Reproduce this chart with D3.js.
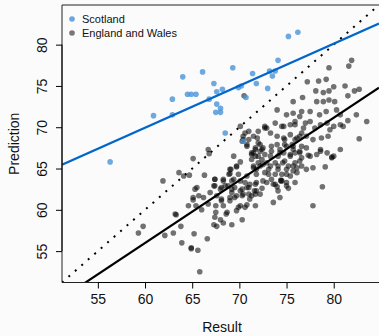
<!DOCTYPE html>
<html>
<head>
<meta charset="utf-8">
<script src="https://cdn.jsdelivr.net/npm/d3@7"></script>
<style>
  html, body { margin: 0; padding: 0; background: #fbfbfb; }
  svg { display: block; font-family: "Liberation Sans", Arial, sans-serif; }
</style>
</head>
<body>
<svg id="chart" width="379" height="336"></svg>
<script>
// values: [result, prediction]
const scotland = [
  [56.3,65.8],[60.9,71.4],[62.9,71.5],[62.9,73.4],[64.0,76.1],[64.5,74.0],[64.9,74.0],[65.4,74.0],
  [75.2,81.0],[76.2,81.5],[74.1,78.1],[66.1,76.7],[69.3,77.2],[67.3,75.3],[67.6,74.3],[68.2,74.6],
  [69.9,74.8],[70.2,75.0],[71.4,76.5],[71.8,75.3],[73.2,76.8],[73.8,76.8],[73.5,76.2],[73.0,74.7],
  [70.7,73.6],[66.8,73.4],[67.6,72.8],[68.0,72.3],[67.5,71.8],[68.0,71.8],[68.5,69.3],[70.4,68.3]
];

const englandWales = [
  [81.9,78.1],[81.6,77.4],[79.5,77.2],[77.2,75.5],[78.4,75.6],[79.2,75.8],[78.1,74.4],[79.5,74.4],
  [81.2,75.0],[82.2,74.4],[82.7,74.6],[81.5,73.8],[83.5,70.7],[82.4,71.5],[82.7,68.6],[70.5,73.8],
  [75.7,73.1],[76.7,73.6],[77.5,71.9],[78.2,73.1],[78.9,73.1],[79.5,73.3],[80.1,73.1],[78.5,71.5],
  [79.2,71.9],[80.3,72.1],[80.7,71.5],[81.5,70.8],[74.0,72.1],[75.0,71.5],[75.7,71.7],[76.6,71.9],
  [76.4,71.3],[73.8,70.5],[74.5,70.1],[75.4,70.3],[75.9,70.7],[77.0,70.5],[77.5,70.7],[78.0,69.9],
  [78.6,70.3],[79.3,70.5],[79.6,69.7],[80.0,70.1],[80.7,70.3],[81.0,70.1],[71.0,69.5],[72.0,69.5],
  [72.9,69.9],[74.0,68.9],[74.7,68.7],[75.4,69.1],[76.1,68.7],[76.6,69.3],[77.1,68.9],[77.8,68.5],
  [78.7,68.7],[79.4,68.9],[70.1,70.1],[70.8,67.9],[71.7,67.3],[72.5,67.5],[73.4,67.7],[74.3,67.3],
  [74.8,67.9],[75.7,67.7],[76.4,67.1],[77.1,67.5],[77.5,66.5],[78.6,67.3],[79.3,66.9],[80.0,66.5],
  [80.7,67.3],[80.0,74.9],[78.9,74.2],[70.4,68.9],[72.7,69.9],
  [61.9,63.5],[63.6,64.5],[64.1,64.1],[64.7,64.2],[65.1,66.2],[66.7,67.3],[66.8,66.8],[66.3,64.2],
  [69.4,66.5],[70.1,65.8],[69.1,64.9],[69.7,65.2],[68.9,64.3],[68.3,63.7],[67.4,63.7],[67.3,62.9],
  [70.4,68.5],[71.5,68.9],[72.0,68.1],[71.3,66.7],[70.8,67.7],[70.3,68.3],[72.0,65.7],[71.5,65.1],
  [71.8,64.3],[70.8,64.1],[70.1,63.5],[69.2,63.5],[68.5,62.9],[68.0,62.5],[69.2,62.5],[70.1,62.3],
  [70.8,62.7],[71.7,63.1],[71.8,62.3],[65.3,62.5],[65.1,61.5],[65.7,61.7],[66.2,61.5],[66.9,62.1],
  [67.6,61.7],[68.1,61.3],[69.0,61.5],[69.7,61.7],[70.4,61.9],[71.1,61.3],[71.7,61.9],[64.6,60.5],
  [65.4,60.5],[66.7,60.7],[67.5,60.5],[68.3,60.5],[70.1,60.5],[70.8,60.6],[71.7,60.5],
  [59.8,58.0],[59.3,57.2],[62.1,56.9],[63.0,57.2],[63.2,59.5],[63.3,59.4],[63.8,58.0],[63.9,56.0],
  [64.9,55.3],[64.9,55.4],[65.6,55.1],[65.2,57.1],[66.6,56.5],[65.8,52.5],[66.0,60.0],[67.5,59.7],
  [68.6,59.5],[68.0,58.8],[67.6,58.0],[67.3,58.2],[68.3,58.4],[69.2,58.2],[69.7,59.9],[70.3,58.8],
  [69.9,60.3],[70.6,60.3],[69.0,61.1],[68.1,61.1],[65.1,61.2],[67.4,59.1],[68.7,59.7],
  [79.8,66.3],[79.8,66.4],[79.1,65.2],[77.8,65.1],[77.1,64.9],[78.8,62.8],[77.8,60.5],[73.6,60.9],
  [74.3,61.5],[75.2,62.6],[74.1,62.3],[74.0,62.8],[73.6,63.1],[74.4,63.5],[74.4,63.6],[75.0,63.3],
  [72.4,62.6],[71.6,62.3],[72.2,61.9],[71.3,61.7],[72.5,63.5],[71.8,63.3],[71.1,63.1],[73.1,64.3],
  [73.8,64.3],[72.7,64.5],[71.8,64.9],[75.0,64.3],[75.7,64.7],[75.2,65.3],[76.1,65.1],[75.9,65.7],
  [76.4,65.9],[74.6,65.7],[74.1,65.3],[73.3,65.3],[72.5,65.5],[72.4,66.1],[73.3,66.5],[74.3,66.9],
  [75.4,66.7],[76.4,66.9],[75.7,67.3],[77.3,66.6],[78.2,66.7],[78.6,67.1],[71.7,66.5],[71.3,66.9],
  [72.2,67.1],
  [65.5,62.7],[69.0,64.9],[69.7,65.3],[69.0,64.4],[69.9,64.3],[69.4,63.7],[68.3,63.5],[67.4,63.7],
  [67.4,62.9],[68.1,62.7],[68.8,62.9],[69.5,62.7],[70.3,62.5],[70.6,63.3],[71.0,62.7],
  [70.6,69.3],[71.0,68.5],[71.9,68.7],[72.2,67.9],[71.7,67.5],[72.4,67.3],[71.5,66.9],[71.3,66.1],
  [72.0,66.5],[72.7,66.7],[72.9,65.7],[72.2,65.3],[71.5,65.3],[73.1,64.9],[73.8,65.7],[74.1,66.5],
  [73.4,67.1],[74.0,67.9],[74.8,68.5],[75.0,67.7],[74.7,66.9],[75.6,67.9],[75.9,68.5],[76.4,68.9],
  [76.6,67.7],[75.9,66.9],[75.4,66.5],[74.8,65.9],[75.7,65.3],[75.0,64.9],[74.1,64.9],[74.5,64.3],
  [75.4,64.1],[76.1,64.5],[76.6,65.3],[76.6,66.3],[72.7,70.1],[74.7,70.1],[75.9,70.3],[76.8,69.9],
  [73.3,69.3],[71.0,61.9],[70.3,61.7],[69.2,62.1],[69.5,61.5],[73.8,63.1],[75.0,62.9],[74.5,63.5],
  [75.9,63.3],[73.4,63.7],[72.9,63.3]
];

// fitted lines: Scotland, England and Wales
const fitNames = ["Scotland", "England and Wales"];
const fitIntercepts = [39.4, 10.5];
const fitSlopes = [0.509, 0.758];
const fitColors = ["#0066cc", "#000000"];

const xTicks = [55, 60, 65, 70, 75, 80];
const yTicks = [55, 60, 65, 70, 75, 80];
const legendLabels = ["Scotland", "England and Wales"];
const legendColors = ["#6aa6de", "#777777"];

const svg = d3.select("#chart");
const m = { left: 62, top: 5, bottom: 282.5, right: 379 };
const lims = [51.2, 84.8];

const x = d3.scaleLinear().domain(lims).range([m.left, m.right]);
const y = d3.scaleLinear().domain(lims).range([m.bottom, m.top]);

svg.append("defs").append("clipPath").attr("id", "plotclip")
  .append("rect").attr("x", m.left).attr("y", m.top)
  .attr("width", m.right - m.left).attr("height", m.bottom - m.top);

const plot = svg.append("g").attr("clip-path", "url(#plotclip)");

// y = x reference
plot.append("line")
  .attr("x1", x(lims[0])).attr("y1", y(lims[0]))
  .attr("x2", x(lims[1])).attr("y2", y(lims[1]))
  .attr("stroke", "#000").attr("stroke-width", 2)
  .attr("stroke-dasharray", "2,6.6");

plot.selectAll("circle.ew").data(englandWales).enter().append("circle")
  .attr("class", "ew")
  .attr("cx", d => x(d[0])).attr("cy", d => y(d[1])).attr("r", 2.8)
  .attr("fill", "#000").attr("fill-opacity", 0.55);

plot.selectAll("circle.sc").data(scotland).enter().append("circle")
  .attr("class", "sc")
  .attr("cx", d => x(d[0])).attr("cy", d => y(d[1])).attr("r", 2.8)
  .attr("fill", "#4a93d8").attr("fill-opacity", 0.8);

fitNames.forEach((n, i) => {
  plot.append("line")
    .attr("x1", x(lims[0])).attr("y1", y(fitIntercepts[i] + fitSlopes[i] * lims[0]))
    .attr("x2", x(lims[1])).attr("y2", y(fitIntercepts[i] + fitSlopes[i] * lims[1]))
    .attr("stroke", fitColors[i]).attr("stroke-width", 2.2);
});

// box
svg.append("path")
  .attr("d", `M${m.right + 5},${m.top}H${m.left}V${m.bottom}H${m.right + 5}`)
  .attr("fill", "none").attr("stroke", "#222").attr("stroke-width", 1);

// axes
const xAxis = svg.append("g").attr("transform", `translate(0,${m.bottom})`)
  .call(d3.axisBottom(x).tickValues(xTicks).tickSize(6).tickPadding(6));
const yAxis = svg.append("g").attr("transform", `translate(${m.left},0)`)
  .call(d3.axisLeft(y).tickValues(yTicks).tickSize(6).tickPadding(4));

[xAxis, yAxis].forEach(g => {
  g.select(".domain").remove();
  g.selectAll("line").attr("stroke", "#000");
  g.selectAll("text").attr("font-size", 14).attr("fill", "#111")
    .attr("font-family", "'Liberation Sans', Arial, sans-serif");
});
xAxis.append("line").attr("x1", x(55)).attr("x2", x(80)).attr("stroke", "#000");
yAxis.append("line").attr("y1", y(55)).attr("y2", y(80)).attr("stroke", "#000");

yAxis.selectAll(".tick text")
  .attr("x", null)
  .attr("text-anchor", "middle")
  .attr("transform", "translate(-20,0) rotate(-90)")
  .attr("dy", "0.35em");

svg.append("text").attr("x", 222).attr("y", 332)
  .attr("text-anchor", "middle").attr("font-size", 14).attr("fill", "#111").text("Result");
svg.append("text").attr("transform", `translate(19,${(m.top + m.bottom) / 2}) rotate(-90)`)
  .attr("text-anchor", "middle").attr("font-size", 14).attr("fill", "#111").text("Prediction");

// legend
const leg = svg.append("g").attr("transform", "translate(72,19)");
legendLabels.forEach((l, i) => {
  leg.append("circle").attr("cx", 0).attr("cy", i * 14).attr("r", 2.8).attr("fill", legendColors[i]);
  leg.append("text").attr("x", 10).attr("y", i * 14).attr("dy", "0.35em")
    .attr("font-size", 11).attr("fill", "#111").text(l);
});
</script>
</body>
</html>
